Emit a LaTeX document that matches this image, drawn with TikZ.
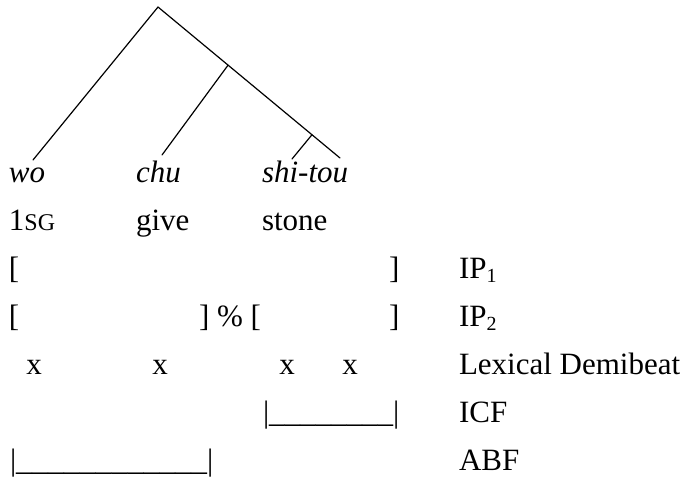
\documentclass[tikz,border=0pt]{standalone}
\usepackage{fontspec}
\setmainfont{Liberation Serif}
\usetikzlibrary{calc}

% small capitals and subscripts set by hand
\newcommand{\smcap}[1]{{\fontsize{24}{24}\selectfont #1}}
\newcommand{\lowidx}[1]{\raisebox{-0.14em}{\fontsize{20}{20}\selectfont #1}}

\begin{document}
\begin{tikzpicture}[x=1pt, y=-1pt,
  txt/.style={anchor=base west, inner sep=0pt, outer sep=0pt,
              font=\fontsize{31}{37}\selectfont},
  beat/.style={anchor=base, inner sep=0pt, outer sep=0pt,
              font=\fontsize{31}{37}\selectfont},
  branch/.style={line width=1.2pt, line cap=round}]
\useasboundingbox (0,0) rectangle (685,479);

% tree
\coordinate (root) at (158,7);
\coordinate (touEnd) at (340,158);
\coordinate (woEnd) at (33,160);
\coordinate (chuEnd) at (162,155);
\coordinate (shiEnd) at (292,159);
\coordinate (vp) at ($(root)!0.385!(touEnd)$);
\coordinate (np) at ($(root)!0.846!(touEnd)$);
\draw[branch] (root) -- (woEnd);
\draw[branch] (root) -- (touEnd);
\draw[branch] (vp) -- (chuEnd);
\draw[branch] (np) -- (shiEnd);

% words and glosses
\node[txt] (wo) at (9,182) {\textit{wo}};
\node[txt] (chu) at (136,182) {\textit{chu}};
\node[txt] (shitou) at (262,182) {\textit{shi-tou}};
\node[txt] (g1) at (9,230) {1\smcap{SG}};
\node[txt] (g2) at (136,230) {give};
\node[txt] (g3) at (262,230) {stone};

% intonational phrases
\node[txt] (ipAopen) at (9,278) {[};
\node[txt] (ipAclose) at (389,278) {]};
\node[txt] (ipAlab) at (459,278) {IP\lowidx{1}};
\node[txt] (ipBopen) at (9,326) {[};
\node[txt] (ipBmid) at (199,326) {] \% [};
\node[txt] (ipBclose) at (389,326) {]};
\node[txt] (ipBlab) at (459,326) {IP\lowidx{2}};

% demibeats
\node[beat] (x1) at (34,374) {x};
\node[beat] (x2) at (160,374) {x};
\node[beat] (x3) at (287,374) {x};
\node[beat] (x4) at (350,374) {x};
\node[txt] (demi) at (459,374) {Lexical Demibeat};

% feet
\node[txt] (icf) at (263,422) {|\_\_\_\_\_\_\_\_|};
\node[txt] (icflab) at (459,422) {ICF};
\node[txt] (abf) at (10,470) {|\scalebox{1.026}[1]{\_\_\_\_\_\_\_\_\_\_\_\_}|};
\node[txt] (abflab) at (459,470) {ABF};
\end{tikzpicture}
\end{document}
